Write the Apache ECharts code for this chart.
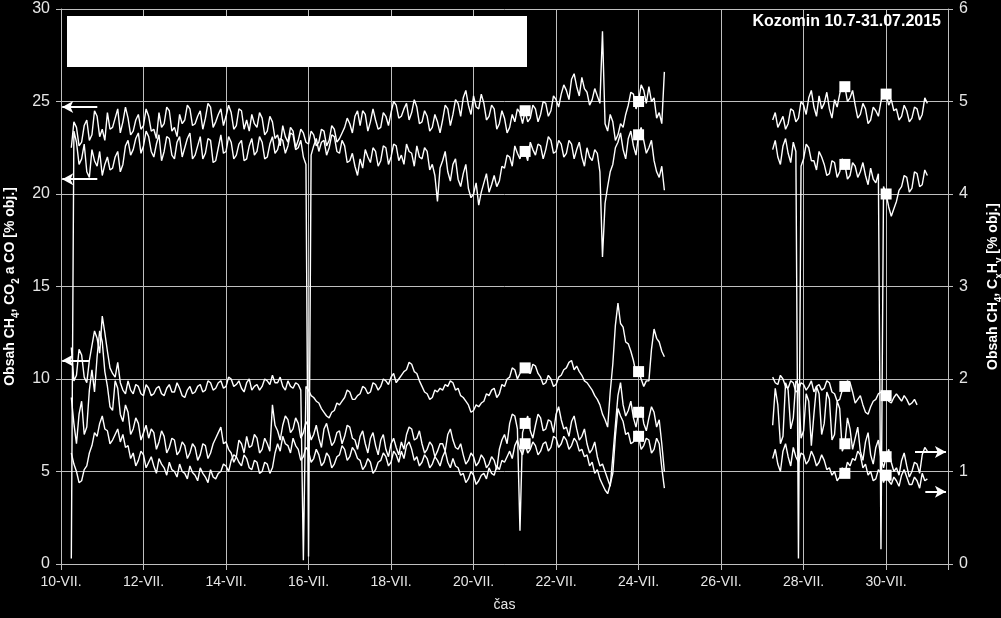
<!DOCTYPE html>
<html>
<head>
<meta charset="utf-8">
<script src="https://cdn.jsdelivr.net/npm/echarts@6/dist/echarts.min.js"></script>
<style>html,body{margin:0;padding:0;background:#000;}#c{width:1001px;height:618px;}</style>
</head>
<body>
<div id="c"></div>
<script>
// time step: 1.5 h (0.0625 day), days counted from 10-VII. 00:00
const stepDays = 0.0625;
const seg1Start = 0.25;
const seg2Start = 17.25;
const xTickLabels = ['10-VII.','12-VII.','14-VII.','16-VII.','18-VII.','20-VII.','22-VII.','24-VII.','26-VII.','28-VII.','30-VII.'];
const markerDays = [11.25, 14.0, 19.0, 20.0];

// left axis series [% obj.]
const co2A = [
22.5,23.9,23.6,22.6,22.8,23.7,24.0,22.9,23.2,24.5,24.2,23.1,23.5,22.9,24.4,23.5,
23.6,24.1,24.6,23.3,23.9,24.7,24.1,23.2,23.4,24.0,24.3,23.5,23.7,24.6,24.2,23.4,
23.5,23.0,24.4,23.6,23.8,24.7,24.5,23.4,23.6,23.1,24.3,23.8,24.0,24.8,24.6,23.7,
23.8,24.2,24.5,23.5,24.1,24.9,24.7,23.6,23.9,24.3,24.6,23.7,24.2,24.8,24.4,23.5,
23.7,24.6,24.5,23.5,24.0,23.4,24.3,23.8,23.6,24.4,24.1,23.2,23.4,24.2,23.9,23.0,
23.2,22.6,23.7,23.1,22.8,23.6,23.4,22.5,22.9,23.5,23.3,22.8,22.7,23.4,23.2,22.6,
22.8,23.5,23.4,22.6,22.9,23.7,23.5,22.8,23.0,23.3,23.6,24.1,23.8,23.3,24.2,24.5,
23.7,24.5,24.3,23.4,23.9,24.6,24.0,23.5,23.6,24.4,24.2,23.7,24.4,25.0,24.8,24.1,
24.2,24.6,24.9,24.0,24.4,25.1,24.7,23.8,23.9,24.5,24.2,23.4,23.6,24.3,23.9,23.3,
24.0,24.8,24.6,23.7,24.3,25.1,24.9,24.2,25.2,25.6,24.8,24.3,25.3,24.7,24.6,25.4,
24.9,24.0,24.2,24.8,24.6,23.5,23.8,24.5,24.1,23.3,23.6,24.3,23.9,24.6,24.4,23.8,
24.5,23.9,24.1,24.8,24.6,23.9,24.3,25.0,24.9,24.2,24.5,25.3,25.1,24.7,25.4,25.9,
25.6,25.1,26.2,26.5,25.8,25.3,26.3,25.7,25.5,24.8,25.1,25.7,25.3,24.9,28.8,23.8,
23.4,24.3,23.9,22.9,23.2,23.8,23.6,24.3,24.8,25.5,25.4,24.6,25.0,25.9,25.6,24.9,
25.8,25.0,25.2,24.1,24.4,23.8,26.6];
const co2B = [
24.0,24.4,23.6,23.9,24.2,23.5,23.8,24.6,24.5,23.9,24.1,25.0,24.8,24.3,25.2,25.6,
24.7,24.2,25.3,24.6,24.9,25.5,24.6,24.1,25.1,24.7,25.4,26.0,25.8,25.0,25.2,25.6,
24.8,24.1,24.3,24.9,24.6,23.8,24.0,24.7,24.5,24.2,25.0,25.6,25.4,24.8,25.1,24.5,
24.6,24.0,24.2,24.8,24.5,23.9,24.1,24.7,24.6,24.0,24.3,25.2,24.9];

const ch4A = [
0.3,23.4,22.8,21.6,21.9,22.7,21.2,20.9,22.4,21.8,21.5,22.3,21.0,21.6,22.0,21.3,
21.4,22.0,22.3,21.2,21.6,22.6,22.9,22.1,22.4,23.0,23.3,22.2,22.6,23.4,23.1,22.3,
22.0,22.7,23.2,21.8,22.3,23.1,23.0,22.1,21.9,22.8,23.1,22.0,22.5,23.0,23.3,21.9,
22.1,22.6,23.1,21.9,22.2,23.0,22.9,21.7,21.8,22.5,23.2,22.2,22.3,23.1,22.8,21.9,
22.1,22.7,22.9,21.8,21.9,22.6,23.0,22.1,22.3,23.1,22.8,21.9,22.0,22.7,23.1,22.2,
22.4,23.0,22.9,22.2,22.6,23.3,23.2,22.4,22.5,22.9,22.0,21.6,0.4,22.1,22.6,23.0,
22.3,22.8,22.9,22.1,22.5,23.2,23.1,22.3,22.2,22.9,22.6,21.7,21.8,22.2,21.5,21.0,
21.9,21.4,22.4,22.0,21.7,22.5,22.3,21.5,21.8,22.6,22.5,21.6,22.0,22.7,22.6,21.8,
22.1,21.6,22.7,22.3,22.2,21.5,22.6,22.0,21.9,22.5,22.3,21.3,21.6,21.0,19.6,21.4,
21.8,22.3,21.2,20.7,21.6,21.9,20.8,20.4,21.1,21.6,20.3,19.8,20.0,20.6,19.4,20.1,
20.6,21.1,20.1,20.5,21.0,20.4,20.7,21.5,21.4,22.1,22.0,21.5,22.6,22.2,21.9,22.5,
22.3,21.8,22.8,22.4,22.1,22.7,22.6,21.9,22.4,23.1,22.9,22.2,22.3,22.9,22.7,22.0,
22.2,22.9,22.7,21.9,22.4,22.8,22.0,21.5,22.5,22.0,21.8,22.4,22.2,21.2,16.6,19.5,
20.4,21.2,21.6,22.5,22.8,23.3,22.4,21.9,23.0,23.4,22.6,22.1,23.2,23.6,22.9,22.2,
22.5,22.9,21.8,21.2,20.9,21.5,20.2];
const ch4B = [
22.4,22.9,22.0,21.6,22.6,23.0,22.2,21.7,22.8,22.3,0.3,21.5,21.9,22.7,22.5,21.8,
21.8,21.3,22.3,22.0,21.6,21.0,21.1,21.8,21.7,20.9,21.2,21.9,21.6,20.8,21.0,21.7,
21.5,20.9,21.2,21.7,21.0,20.5,21.4,20.8,20.6,21.1,0.8,20.4,20.0,19.3,18.8,19.2,
19.6,20.2,20.4,21.0,20.9,20.1,20.3,21.2,21.1,20.4,20.5,21.3,21.0];

const coA = [
11.7,9.9,10.2,11.6,11.3,10.1,9.8,11.0,11.8,12.6,12.2,11.4,13.4,12.5,11.5,10.6,
10.3,10.1,10.9,9.8,9.4,9.2,9.9,9.4,9.2,9.7,9.6,9.2,9.1,9.7,9.5,9.1,
9.2,9.5,9.6,9.2,9.1,9.5,9.7,9.3,9.3,9.8,9.5,9.1,9.0,9.4,9.6,9.2,
9.3,9.6,9.7,9.3,9.4,9.9,9.8,9.4,9.5,9.8,9.9,9.5,9.6,10.1,10.0,9.6,
9.7,9.9,9.5,9.3,9.8,10.0,9.4,9.6,9.7,9.4,9.6,10.0,9.9,9.7,10.2,9.8,
9.8,10.1,9.6,9.4,9.9,9.6,9.5,9.8,9.7,9.4,0.2,9.6,9.4,9.1,9.0,8.8,
8.7,8.4,8.2,8.0,7.9,8.2,8.3,8.7,8.6,8.8,9.0,9.4,9.3,8.9,8.9,9.1,
9.2,9.6,9.5,9.2,9.3,9.8,9.7,9.4,9.6,10.0,9.9,9.7,10.1,10.3,9.8,10.0,
10.2,10.4,10.5,10.9,10.8,10.4,10.3,9.9,9.6,9.3,9.2,8.9,9.0,9.4,9.3,9.5,
9.4,9.7,9.6,9.9,9.8,9.4,9.5,9.1,9.0,8.8,8.6,8.2,8.3,8.6,8.5,8.7,
8.8,9.2,9.1,9.4,9.5,9.0,9.2,9.7,9.6,10.0,10.1,10.6,10.5,10.0,10.3,10.7,
10.6,10.4,10.3,10.8,10.7,10.3,10.1,9.7,9.8,10.2,10.0,9.6,9.7,10.1,10.2,10.5,
10.6,10.9,11.0,10.5,10.7,10.4,10.2,9.9,9.8,9.6,9.4,9.1,8.9,8.6,8.1,7.8,
7.4,9.3,10.8,12.9,14.1,13.0,12.8,12.0,11.9,11.5,11.0,10.3,10.4,10.0,9.6,9.9,
9.9,11.6,12.7,12.2,12.0,11.5,11.2];
const coB = [
10.1,9.8,9.7,10.2,10.0,9.6,9.5,9.9,9.8,9.3,9.4,9.8,9.7,9.4,9.6,9.9,
9.3,9.6,9.7,9.4,9.5,9.9,9.8,9.3,9.2,8.8,8.9,9.4,9.6,9.9,9.8,9.3,
8.7,8.9,9.1,8.6,8.2,8.1,8.5,8.8,8.9,9.2,9.3,9.0,9.1,8.8,8.7,9.0,
9.2,9.0,8.8,9.1,8.9,8.6,8.7,8.9,8.6,null,null,null,null];

// right axis series [% obj.]
const ch4rA = [
1.80,1.52,1.30,1.62,1.76,1.40,1.48,1.88,2.10,1.86,2.24,2.52,2.40,2.08,1.92,1.70,
1.66,1.98,1.90,1.62,1.54,1.72,1.64,1.40,1.46,1.58,1.52,1.34,1.42,1.50,1.36,1.46,
1.42,1.24,1.32,1.44,1.38,1.20,1.26,1.36,1.34,1.18,1.22,1.32,1.28,1.14,1.20,1.30,
1.26,1.12,1.18,1.30,1.28,1.14,1.20,1.30,1.36,1.42,1.48,1.30,1.32,1.24,1.20,1.10,
1.16,1.34,1.30,1.20,1.38,1.26,1.28,1.40,1.36,1.20,1.24,1.36,1.30,1.22,1.72,1.50,
1.44,1.34,1.50,1.60,1.56,1.42,1.46,1.58,1.52,1.36,1.42,1.54,1.48,1.34,1.40,1.50,
1.36,1.26,1.46,1.52,1.40,1.28,1.32,1.42,1.44,1.30,1.38,1.50,1.48,1.36,1.34,1.24,
1.38,1.44,1.30,1.20,1.36,1.42,1.28,1.18,1.34,1.40,1.24,1.16,1.30,1.36,1.26,1.18,
1.32,1.24,1.40,1.48,1.46,1.34,1.36,1.44,1.30,1.20,1.24,1.32,1.28,1.16,1.22,1.30,
1.30,1.22,1.40,1.46,1.34,1.26,1.24,1.30,1.18,1.08,1.12,1.20,1.16,1.06,1.10,1.18,
1.14,1.04,1.08,1.16,1.12,1.02,1.24,1.34,1.40,1.30,1.52,1.62,1.60,1.46,0.36,1.42,
1.52,1.60,1.44,1.36,1.50,1.62,1.58,1.44,1.46,1.56,1.54,1.42,1.62,1.70,1.56,1.46,
1.48,1.38,1.54,1.60,1.46,1.34,1.38,1.46,1.30,1.20,1.24,1.32,1.16,1.06,1.08,1.00,
0.92,0.84,1.16,1.50,1.82,1.96,1.72,1.60,1.66,1.76,1.58,1.48,1.64,1.70,1.52,1.44,
1.58,1.70,1.64,1.48,1.56,1.30,1.00];
const ch4rB = [
1.50,1.90,1.72,1.30,1.38,1.96,1.88,1.46,1.58,1.98,1.94,1.36,1.44,1.84,1.76,1.28,
1.62,1.92,1.84,1.40,1.52,1.86,1.78,1.34,1.40,1.76,1.68,1.22,1.30,1.58,1.46,1.24,
1.36,1.48,1.22,1.12,1.32,1.42,1.18,1.08,1.26,1.34,1.14,1.04,1.16,1.24,1.10,1.00,
1.04,0.96,1.12,1.20,1.06,0.94,1.00,1.10,1.08,0.98,1.18,1.26,1.22];

const cxhyA = [
1.20,1.08,1.00,0.88,0.90,1.02,1.06,1.20,1.28,1.42,1.38,1.52,1.60,1.46,1.44,1.30,
1.34,1.40,1.46,1.32,1.40,1.26,1.28,1.14,1.20,1.06,1.12,1.22,1.18,1.04,1.10,1.16,
1.06,0.98,1.14,1.08,1.04,0.96,1.10,1.02,1.00,0.94,1.08,1.00,0.98,0.92,1.06,0.99,
0.96,0.90,1.04,0.98,0.94,0.88,1.02,0.94,0.92,0.98,1.00,1.08,1.06,1.00,1.12,1.18,
1.16,1.10,1.06,1.18,1.14,1.04,1.02,1.12,1.10,0.98,1.00,1.10,1.08,0.98,1.04,1.20,
1.30,1.22,1.38,1.30,1.28,1.20,1.36,1.28,1.24,1.12,1.16,1.26,1.22,1.10,1.14,1.24,
1.18,1.06,1.10,1.20,1.16,1.04,1.08,1.16,1.18,1.28,1.24,1.12,1.16,1.26,1.22,1.14,
1.12,1.02,1.06,1.14,1.10,0.98,1.02,1.10,1.12,1.20,1.16,1.06,1.10,1.22,1.18,1.10,
1.22,1.14,1.28,1.32,1.24,1.12,1.16,1.06,1.10,1.18,1.14,1.04,1.08,1.16,1.12,1.06,
1.16,1.22,1.10,1.04,1.14,1.06,1.04,0.96,0.98,0.88,0.92,1.00,0.96,0.86,0.90,0.96,
0.98,0.92,1.04,0.98,0.96,1.06,1.02,1.12,1.10,1.16,1.22,1.14,1.28,1.34,1.24,1.18,
1.30,1.20,1.24,1.32,1.28,1.18,1.22,1.30,1.32,1.22,1.26,1.38,1.36,1.26,1.30,1.38,
1.34,1.24,1.28,1.36,1.32,1.22,1.24,1.16,1.18,1.06,1.10,0.98,1.02,0.92,0.86,0.80,
0.76,0.86,0.98,1.38,1.68,1.60,1.54,1.40,1.42,1.30,1.32,1.44,1.38,1.24,1.28,1.36,
1.34,1.20,1.24,1.36,1.30,1.04,0.82];
const cxhyB = [
1.14,1.24,1.08,1.00,1.22,1.30,1.16,1.06,1.26,1.16,1.10,1.20,1.18,1.08,1.12,1.22,
1.16,1.06,1.10,1.18,1.12,1.02,1.04,0.96,1.00,0.90,0.94,1.04,0.98,1.10,1.06,1.14,
1.12,1.22,1.18,1.04,1.08,0.96,1.00,0.90,0.92,1.02,0.98,0.88,0.96,0.90,0.86,0.94,
0.90,0.84,0.96,1.02,0.94,0.86,0.86,0.94,0.90,0.82,0.98,0.90,0.92];

function pt(d, v) {
  if (v !== null && markerDays.indexOf(d) >= 0) {
    return { value: [d, v], symbol: 'rect', symbolSize: 11, itemStyle: { color: '#ffffff' } };
  }
  return [d, v];
}
function build(a, b) {
  const out = [];
  a.forEach((v, i) => out.push(pt(seg1Start + i * stepDays, v)));
  out.push([16.0, null]);
  b.forEach((v, i) => out.push(pt(seg2Start + i * stepDays, v)));
  return out;
}

const FONT = 'Liberation Sans, Arial, sans-serif';
const GRID_C = '#bfbfbf';
const TXT_C = '#e6e6e6';
const lineStyle = { color: '#ffffff', width: 1.4 };

function lineSeries(name, yIdx, data, extra) {
  return Object.assign({
    name: name, type: 'line', yAxisIndex: yIdx, data: data,
    symbol: 'none', showSymbol: true, connectNulls: false,
    lineStyle: lineStyle, itemStyle: { color: '#ffffff' },
    silent: true, animation: false, z: 3
  }, extra || {});
}

const arrowCommon = {
  silent: true, animation: false, symbol: ['none', 'arrow'], symbolSize: [9, 11],
  lineStyle: { color: '#ffffff', width: 2, type: 'solid' }, label: { show: false }
};

const chart = echarts.init(document.getElementById('c'), null, { renderer: 'canvas' });
chart.setOption({
  backgroundColor: '#000000',
  animation: false,
  title: {
    text: 'Kozomin 10.7-31.07.2015', right: 60, top: 14, padding: 0,
    textStyle: { color: '#ffffff', fontSize: 16, fontWeight: 'bold', fontFamily: FONT }
  },
  grid: { left: 61, right: 53, top: 9, bottom: 54, containLabel: false, outerBoundsMode: 'none' },
  xAxis: {
    type: 'value', min: 0, max: 21.5, interval: 2,
    axisLine: { show: true, lineStyle: { color: GRID_C } },
    axisTick: { show: true, length: 6, lineStyle: { color: GRID_C } },
    splitLine: { show: true, lineStyle: { color: GRID_C, width: 1 } },
    axisLabel: {
      color: TXT_C, fontSize: 14, fontFamily: FONT, margin: 11,
      formatter: function (v) { return (v % 2 === 0 && xTickLabels[v / 2]) ? xTickLabels[v / 2] : ''; }
    },
    name: 'čas', nameLocation: 'middle', nameGap: 34,
    nameTextStyle: { color: TXT_C, fontSize: 14, fontFamily: FONT }
  },
  yAxis: [{
    type: 'value', min: 0, max: 30, interval: 5, position: 'left',
    axisLine: { show: true, lineStyle: { color: GRID_C } },
    axisTick: { show: true, length: 5, lineStyle: { color: GRID_C } },
    splitLine: { show: true, lineStyle: { color: GRID_C, width: 1 } },
    axisLabel: { color: TXT_C, fontSize: 16, fontFamily: FONT, margin: 11 },
    name: '{m|Obsah CH}{s|4}{m|, CO}{s|2}{m| a CO [% obj.]}',
    nameLocation: 'middle', nameGap: 37, nameRotate: 90,
    nameTextStyle: {
      color: '#ffffff', fontSize: 14, fontWeight: 'bold', fontFamily: FONT,
      rich: {
        m: { color: '#ffffff', fontSize: 14, fontWeight: 'bold', fontFamily: FONT },
        s: { color: '#ffffff', fontSize: 10, fontWeight: 'bold', fontFamily: FONT, verticalAlign: 'bottom', lineHeight: 22 }
      }
    }
  }, {
    type: 'value', min: 0, max: 6, interval: 1, position: 'right',
    axisLine: { show: true, lineStyle: { color: GRID_C } },
    axisTick: { show: true, length: 5, lineStyle: { color: GRID_C } },
    splitLine: { show: false },
    axisLabel: { color: TXT_C, fontSize: 16, fontFamily: FONT, margin: 11 },
    name: '{m|Obsah CH}{s|4}{m|, C}{s|x}{m|H}{s|y}{m| [% obj.]}',
    nameLocation: 'middle', nameGap: 34, nameRotate: 90,
    nameTextStyle: {
      color: '#ffffff', fontSize: 14, fontWeight: 'bold', fontFamily: FONT,
      rich: {
        m: { color: '#ffffff', fontSize: 14, fontWeight: 'bold', fontFamily: FONT },
        s: { color: '#ffffff', fontSize: 10, fontWeight: 'bold', fontFamily: FONT, verticalAlign: 'bottom', lineHeight: 22 }
      }
    }
  }],
  graphic: [{
    type: 'rect', left: 67, top: 16, z: 10,
    shape: { width: 460, height: 51 }, style: { fill: '#ffffff' }
  }],
  series: [
    lineSeries('CO2', 0, build(co2A, co2B), {
      markLine: Object.assign({}, arrowCommon, {
        data: [
          [{ coord: [0.88, 24.7] }, { coord: [0.03, 24.7] }],
          [{ coord: [0.88, 20.8] }, { coord: [0.03, 20.8] }],
          [{ coord: [0.68, 11.0] }, { coord: [0.03, 11.0] }]
        ]
      })
    }),
    lineSeries('CH4', 0, build(ch4A, ch4B)),
    lineSeries('CO', 0, build(coA, coB)),
    lineSeries('CH4 (2)', 1, build(ch4rA, ch4rB), {
      markLine: Object.assign({}, arrowCommon, {
        data: [
          [{ coord: [20.7, 1.21] }, { coord: [21.45, 1.21] }],
          [{ coord: [20.95, 0.78] }, { coord: [21.45, 0.78] }]
        ]
      })
    }),
    lineSeries('CxHy', 1, build(cxhyA, cxhyB))
  ]
});
</script>
</body>
</html>
